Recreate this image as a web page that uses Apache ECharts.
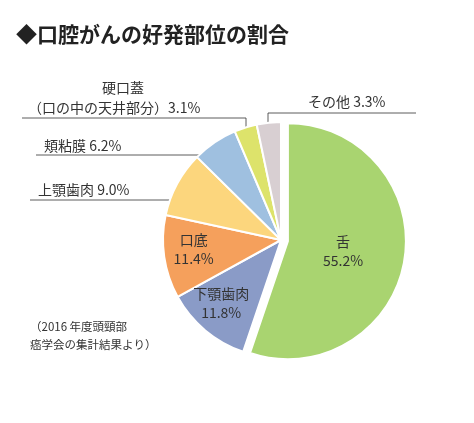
<!DOCTYPE html>
<html><head><meta charset="utf-8">
<script src="https://cdn.jsdelivr.net/npm/echarts@6/dist/echarts.min.js"></script>
<style>html,body{margin:0;padding:0;background:#fff}#c{width:474px;height:423px}</style>
</head><body><div id="c"></div>
<script>
const categories = ['舌','下顎歯肉','口底','上顎歯肉','頬粘膜','硬口蓋','その他'];
const values = [55.2,11.8,11.4,9.0,6.2,3.1,3.3];
const colors = ['#a9d470','#8a9bc7','#f5a05c','#fcd67d','#9fc0e0','#dde36b','#d8cfd2'];
const insideLabels = {'舌':'舌\n55.2%','下顎歯肉':'下顎歯肉\n11.8%','口底':'口底\n11.4%'};
const F = '"Noto Sans CJK JP", sans-serif';
const chart = echarts.init(document.getElementById('c'));
const data = categories.map((c,i)=>({
  name:c, value:values[i], itemStyle:{color:colors[i]},
  selected: i===0,
  label: insideLabels[c] ? {show:true, position:'inside', formatter:insideLabels[c], fontSize:14, color:'#333', fontFamily:F, lineHeight:19} : {show:false}
}));
const shifts = {1:[-20,16],2:[-26,0],0:[-6,0]};
function L(pts){return {type:'polyline',shape:{points:pts},style:{stroke:'#333',lineWidth:0.8,fill:null}};}
function T(x,y,t,fs){return {type:'text',x:x,y:y,style:{text:t,fontSize:fs||14,fill:'#333',fontFamily:F,lineHeight:20}};}
chart.setOption({
  animation:false,
  graphic:[
    {type:'text',left:16,top:24,style:{text:'◆口腔がんの好発部位の割合',fontSize:21,fontWeight:'bold',fill:'#222',fontFamily:F}},
    T(102,78,categories[5]), T(28,98,'（口の中の天井部分）'+values[5].toFixed(1)+'%'),
    L([[22,118],[246,118],[246,142]]),
    T(44,136,categories[4]+' '+values[4].toFixed(1)+'%'),
    L([[36,155],[205,155]]),
    T(38,180,categories[3]+' '+values[3].toFixed(1)+'%'),
    L([[30,200],[172,200]]),
    T(308,92,categories[6]+' '+values[6].toFixed(1)+'%'),
    L([[416,113],[268,113],[268,134]]),
    {type:'text',x:30,y:318,style:{text:'（2016 年度頭頸部\n癌学会の集計結果より）',fontSize:11.5,fill:'#333',fontFamily:F,lineHeight:18}}
  ],
  series:[{
    type:'pie', center:[281,240], radius:[0,118], startAngle:90, clockwise:true,
    selectedMode:'single', selectedOffset:7,
    itemStyle:{borderColor:'#fff',borderWidth:2},
    labelLine:{show:false},
    labelLayout:function(p){const s=shifts[p.dataIndex];return s?{dx:s[0],dy:s[1]}:{};},
    data:data
  }]
});
</script></body></html>
